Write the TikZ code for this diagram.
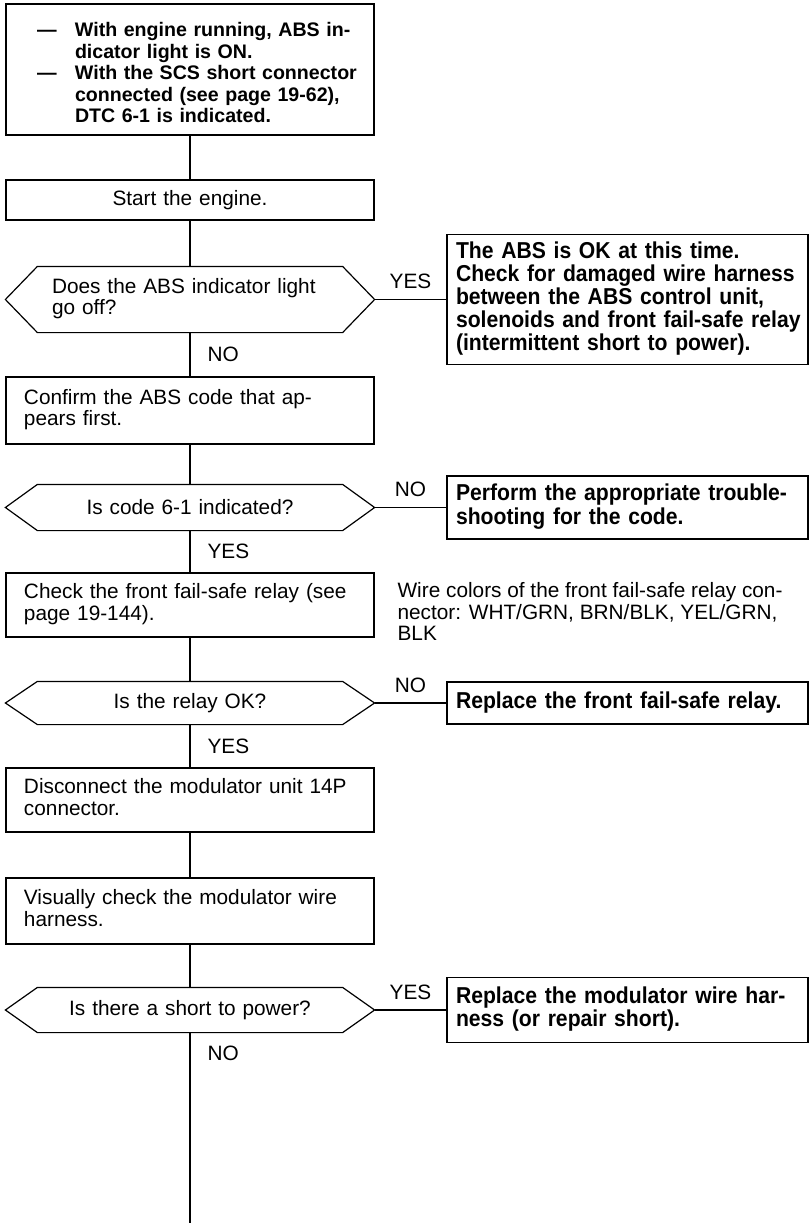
\documentclass[tikz,border=0pt]{standalone}
\usepackage{fontspec}
\setmainfont{Liberation Sans}
\newfontfamily\heavyfont[FakeStretch=0.92]{Liberation Sans}
\newcommand{\rows}[1]{\begin{tabular}{@{}l@{}}#1\end{tabular}}
\tikzset{
  plain/.style={font=\fontsize{10.4}{10.8}\selectfont},
  actbox/.style={draw, rectangle, plain, text width=166pt, inner xsep=9pt, inner ysep=0pt, align=left},
  query/.style={rectangle, plain, text width=138pt, inner xsep=23pt, inner ysep=0pt, align=center},
  fixbox/.style={draw, rectangle, font=\heavyfont\bfseries\fontsize{11.5}{10.9}\selectfont,
    text width=171.5pt, inner xsep=4.5pt, inner ysep=0pt, align=left},
  answer/.style={plain, inner sep=0pt},
}
\begin{document}
\begin{tikzpicture}[x=0.5pt, y=-0.5pt, line width=0.6pt]
  \useasboundingbox (0,0) rectangle (811,1225);
  % Condition de depart
  \node[draw, rectangle, font=\bfseries\fontsize{9.8}{10.7}\selectfont, text width=153pt,
    inner xsep=15.5pt, inner ysep=0pt, minimum height=65.5pt, align=left] (b1) at (190,69.5)
    {\begin{tabular}{@{}p{19pt}@{}l@{}}
      \rule{0pt}{13.5pt}--- & With engine running, ABS in-\\
          & dicator light is ON.\\
      --- & With the SCS short connector\\
          & connected (see page 19-62),\\
          & DTC 6-1 is indicated.
    \end{tabular}};
  \node[actbox, align=center, minimum height=20pt] (b2) at (190,200) {Start the engine.};
  % Premiere question
  \node[query, align=left, minimum height=32.5pt] (d1) at (190,299.5)
    {\rows{Does the ABS indicator light\\go off?}};
  \node[fixbox, minimum height=65pt] (r1) at (627.5,299.5)
    {\rows{The ABS is OK at this time.\\Check for damaged wire harness\\between the ABS control unit,\\
      solenoids and front fail-safe relay\\(intermittent short to power).}};
  \node[actbox, minimum height=33.5pt] (b3) at (190,410.5)
    {\rows{Confirm the ABS code that ap-\\pears first.}};
  % Code
  \node[query, minimum height=22.5pt] (d2) at (190,507.5) {Is code 6-1 indicated?};
  \node[fixbox, minimum height=31.5pt] (r2) at (627.5,507.5)
    {\rows{Perform the appropriate trouble-\\shooting for the code.}};
  \node[actbox, minimum height=32pt] (b4) at (190,605)
    {\rows{Check the front fail-safe relay (see\\page 19-144).}};
  \node[answer, anchor=north west, align=left] (wires) at (397,582)
    {\rows{Wire colors of the front fail-safe relay con-\\nector: WHT/GRN, BRN/BLK, YEL/GRN,\\BLK}};
  % Relais
  \node[query, minimum height=21pt] (d3) at (190,703) {Is the relay OK?};
  \node[fixbox, minimum height=21pt] (r3) at (627.5,703) {Replace the front fail-safe relay.};
  \node[actbox, minimum height=32pt] (b5) at (190,800)
    {\rows{Disconnect the modulator unit 14P\\connector.}};
  \node[actbox, minimum height=33pt] (b6) at (190,911)
    {\rows{Visually check the modulator wire\\harness.}};
  % Court-circuit
  \node[query, minimum height=22pt] (d4) at (190,1010) {Is there a short to power?};
  \node[fixbox, minimum height=32.5pt] (r4) at (627.5,1010)
    {\rows{Replace the modulator wire har-\\ness (or repair short).}};
  \coordinate (end) at (190,1223);
  % Contours hexagonaux
  \foreach \d in {d1,d2,d3,d4}
    \draw (\d.west) -- ([xshift=16pt]\d.north west) -- ([xshift=-16pt]\d.north east)
      -- (\d.east) -- ([xshift=-16pt]\d.south east) -- ([xshift=16pt]\d.south west) -- cycle;
  % Liaisons
  \draw (b1.south) -- (b2.north);
  \draw (b2.south) -- (d1.north);
  \draw (d1.east) -- node[answer, above=5pt] {YES} (r1.west);
  \draw (d1.south) -- node[answer, right=8.5pt] {NO} (b3.north);
  \draw (b3.south) -- (d2.north);
  \draw (d2.east) -- node[answer, above=5pt] {NO} (r2.west);
  \draw (d2.south) -- node[answer, right=8.5pt] {YES} (b4.north);
  \draw (b4.south) -- (d3.north);
  \draw (d3.east) -- node[answer, above=5pt] {NO} (r3.west);
  \draw (d3.south) -- node[answer, right=8.5pt] {YES} (b5.north);
  \draw (b5.south) -- (b6.north);
  \draw (b6.south) -- (d4.north);
  \draw (d4.east) -- node[answer, above=5pt] {YES} (r4.west);
  \draw (d4.south) -- node[answer, right=8.5pt, pos=0.11] {NO} (end);
\end{tikzpicture}
\end{document}
